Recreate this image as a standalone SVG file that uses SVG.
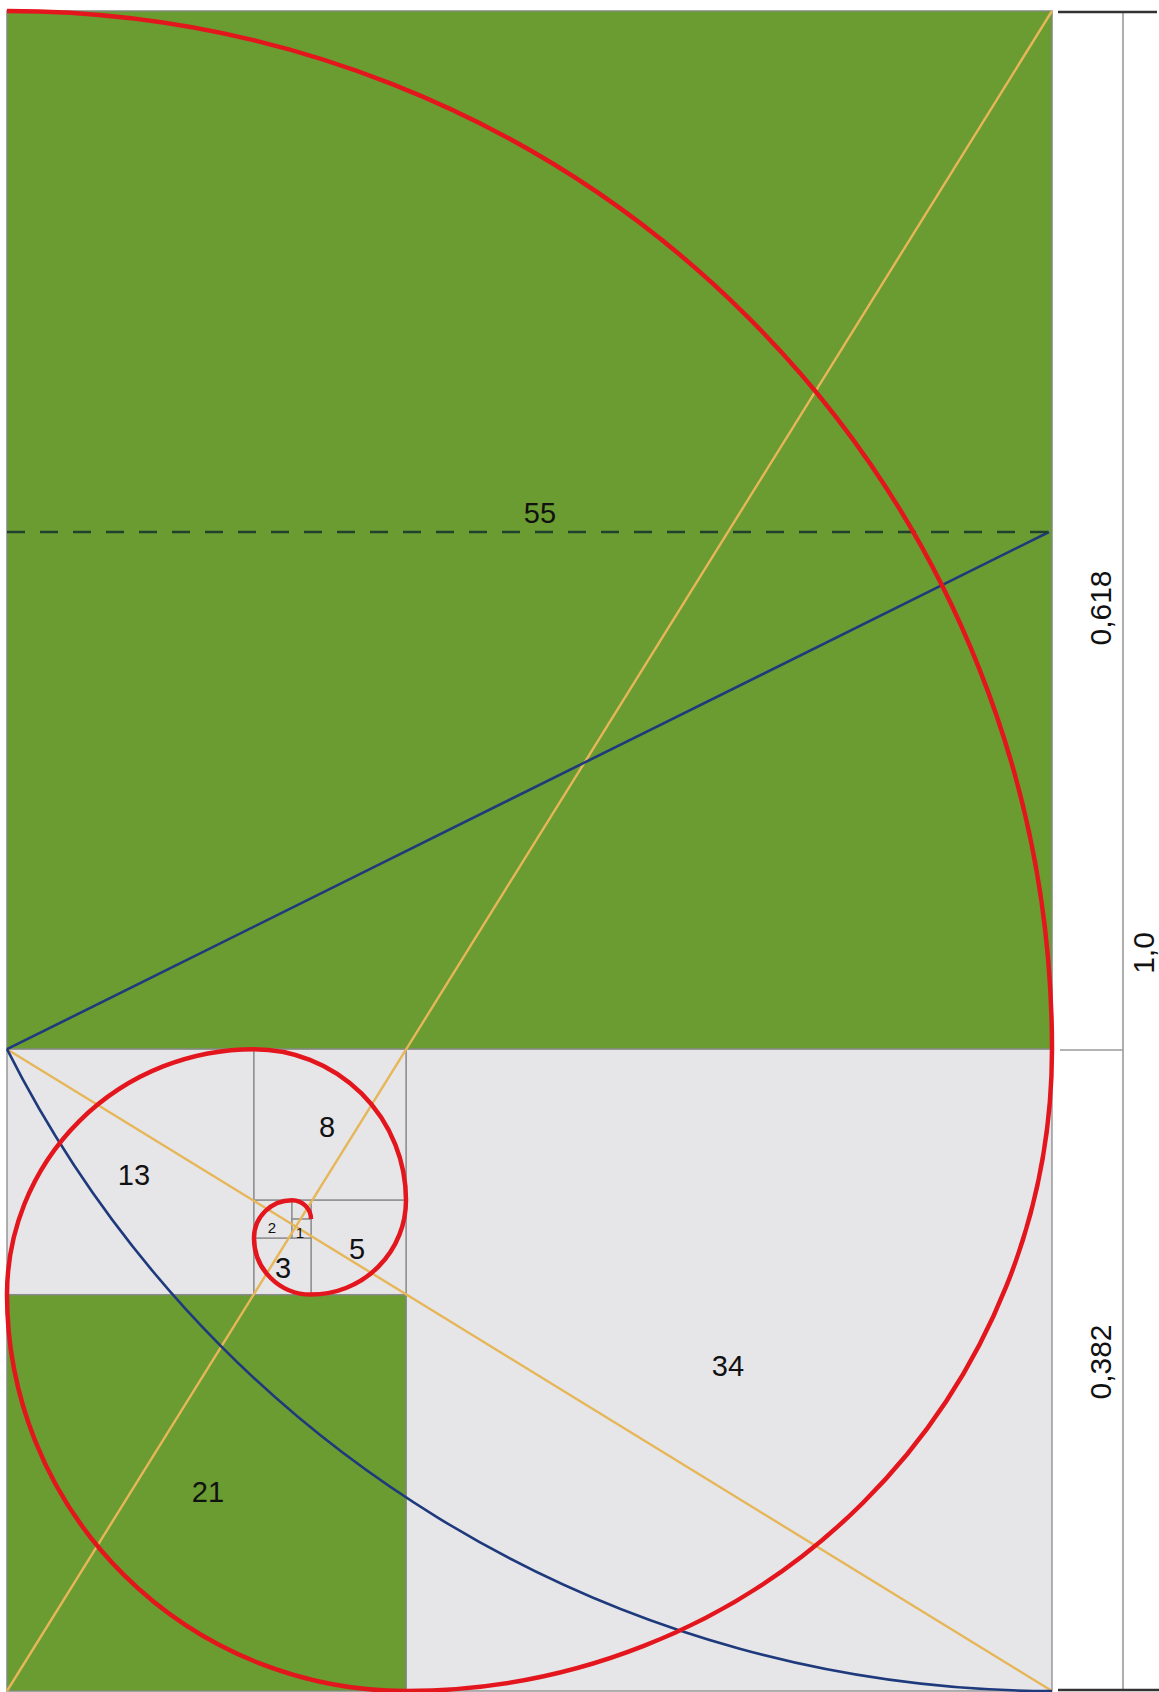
<svg xmlns="http://www.w3.org/2000/svg" width="1159" height="1692" viewBox="0 0 1159 1692">
<style>
.g{fill:#6a9c32;stroke:#7f8a78;stroke-width:1.5}
.l{fill:#e6e6e8;stroke:#8a8a8a;stroke-width:1.3}
.lbl{font-family:"Liberation Sans",Arial,sans-serif;font-size:29px;fill:#111;text-anchor:middle}
.sm{font-size:15px}
.sp{fill:none;stroke:#e3161d;stroke-width:4.5}
.yl{stroke:#e6b658;stroke-width:2.4;fill:none}
.bl{stroke:#1f3a7c;stroke-width:2.6;fill:none}
.dim{stroke:#9a9a9a;stroke-width:1.6}
.dk{stroke:#333;stroke-width:2.5}
.rot{font-family:"Liberation Sans",Arial,sans-serif;font-size:30px;fill:#111;text-anchor:middle}
</style>
<rect width="1159" height="1692" fill="#fff"/>
<g id="sq55"><rect class="g" x="7" y="11" width="1045" height="1038.2"/></g>
<g id="sq34"><rect class="l" x="406" y="1049.2" width="646" height="641.8"/></g>
<g id="sq21"><rect class="g" x="7" y="1294.6" width="399" height="396.4"/></g>
<g id="sq13"><rect class="l" x="7" y="1049.2" width="247" height="245.4"/></g>
<g id="sq8"><rect class="l" x="254" y="1049.2" width="152" height="151"/></g>
<g id="sq5"><rect class="l" x="311" y="1200.2" width="95" height="94.4"/></g>
<g id="sq3"><rect class="l" x="254" y="1238" width="57" height="56.6"/></g>
<g id="sq2"><rect class="l" x="254" y="1200.2" width="38" height="37.8"/></g>
<g id="sq1a"><rect class="l" x="292" y="1200.2" width="19" height="18.9"/></g>
<g id="sq1b"><rect class="l" x="292" y="1219.1" width="19" height="18.9"/></g>
<g id="connectors">
<line class="yl" x1="7" y1="1691" x2="1052" y2="11"/>
<line class="yl" x1="7" y1="1049.2" x2="1052" y2="1691"/>
<line class="bl" x1="7" y1="1049.2" x2="1049" y2="532"/>
<path class="bl" d="M7,1049.2 A1168.3,1160.7 0 0 0 1052,1691"/>
<line x1="7" y1="532" x2="1052" y2="532" stroke="#22402e" stroke-width="2.6" stroke-dasharray="18 15"/>
<path class="sp" d="M7,11 A1045,1038.2 0 0 1 1052,1049.2 A646,641.8 0 0 1 406,1691 A399,396.4 0 0 1 7,1294.6 A247,245.4 0 0 1 254,1049.2 A152,151 0 0 1 406,1200.2 A95,94.4 0 0 1 311,1294.6 A57,56.6 0 0 1 254,1238 A38,37.8 0 0 1 292,1200.2 A19,18.9 0 0 1 311,1219.1"/>
</g>
<g id="dimensions">
<line class="dim" x1="1123" y1="12" x2="1123" y2="1690"/>
<line class="dk" x1="1058" y1="12" x2="1157" y2="12"/>
<line class="dim" x1="1060" y1="1050" x2="1123" y2="1050"/>
<line class="dk" x1="1058" y1="1690" x2="1159" y2="1690"/>
<text class="rot" transform="translate(1100,608) rotate(-90)" x="0" y="10.7">0,618</text>
<text class="rot" transform="translate(1143,953) rotate(-90)" x="0" y="10.7">1,0</text>
<text class="rot" transform="translate(1100,1362) rotate(-90)" x="0" y="10.7">0,382</text>
</g>
<g id="labels">
<text class="lbl" x="540" y="523">55</text>
<text class="lbl" x="134" y="1185">13</text>
<text class="lbl" x="327" y="1137">8</text>
<text class="lbl" x="357" y="1259">5</text>
<text class="lbl" x="283" y="1278">3</text>
<text class="lbl sm" x="272" y="1233">2</text>
<text class="lbl sm" x="300" y="1238">1</text>
<text class="lbl" x="208" y="1502">21</text>
<text class="lbl" x="728" y="1376">34</text>
</g>
</svg>
